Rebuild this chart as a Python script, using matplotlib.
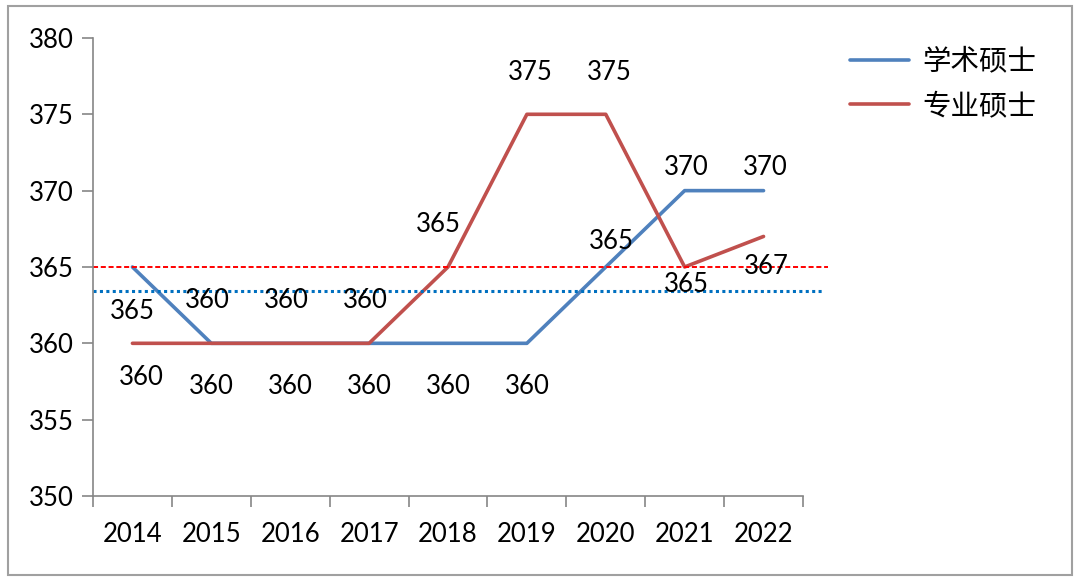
import matplotlib
matplotlib.use("Agg")
import matplotlib.pyplot as plt
from matplotlib.patches import Rectangle

plt.rcParams["font.family"] = ["Lato", "Noto Sans CJK SC", "DejaVu Sans"]

years = ["2014", "2015", "2016", "2017", "2018", "2019", "2020", "2021", "2022"]
academic = [365, 360, 360, 360, 360, 360, 365, 370, 370]
professional = [360, 360, 360, 360, 365, 375, 375, 365, 367]
red_ref = 365
blue_ref = 363.4

# label offsets in pixels (dx, dy), dy positive = up
acad_offsets = [(0, -45), (0, -43), (0, -43), (0, -43), (0, -43), (0, -43), (6, 25), (2, 23), (2, 23)]
prof_offsets = [(9, -34), (-4, 43), (-4, 43), (-4, 43), (-10, 42), (3, 42), (4, 42), (2, -18), (3, -30)]

BLUE = "#4F81BD"
RED = "#C0504D"
GRAY = "#868686"
PX = 0.72  # points per pixel at dpi 100

fig = plt.figure(figsize=(10.8, 5.84), dpi=100)
fig.patches.append(Rectangle((8 / 1080, 9 / 584), 1064 / 1080, 569 / 584,
                             transform=fig.transFigure, fill=False,
                             edgecolor="#A0A0A0", linewidth=1.5))
ax = fig.add_axes([0.0861, 0.1507, 0.6574, 0.7843])

x = list(range(len(years)))
ax.plot(x, academic, color=BLUE, lw=2.6, label="学术硕士", solid_capstyle="round")
ax.plot(x, professional, color=RED, lw=2.6, label="专业硕士", solid_capstyle="round")

ax.axhline(red_ref, xmin=0, xmax=1.035, color="#FF0000", lw=1.4,
           linestyle=(0, (2.6, 1.4)), clip_on=False)
ax.axhline(blue_ref, xmin=0, xmax=1.028, color="#0070C0", lw=2.2,
           linestyle=(0, (1, 1.1)), clip_on=False)

for xi, v, (dx, dy) in zip(x, academic, acad_offsets):
    ax.annotate(str(v), (xi, v), xytext=(dx * PX, dy * PX), textcoords="offset points",
                ha="center", va="center", fontsize=18.5, color="black")
for xi, v, (dx, dy) in zip(x, professional, prof_offsets):
    ax.annotate(str(v), (xi, v), xytext=(dx * PX, dy * PX), textcoords="offset points",
                ha="center", va="center", fontsize=18.5, color="black")

ax.set_xlim(-0.5, len(years) - 0.5)
ax.set_ylim(350, 380)
ax.set_yticks(range(350, 381, 5))
ax.set_xticks([i - 0.5 for i in range(len(years) + 1)])
ax.set_xticklabels([])
ax.set_xticks(x, minor=True)
ax.set_xticklabels(years, minor=True)
ax.tick_params(axis="x", which="major", direction="out", length=8, width=1.2, color=GRAY)
ax.tick_params(axis="x", which="minor", length=0, pad=19, labelsize=18.5)
ax.tick_params(axis="y", direction="out", length=8, width=1.2, color=GRAY, pad=6, labelsize=18.5)

for s in ["top", "right"]:
    ax.spines[s].set_visible(False)
for s in ["left", "bottom"]:
    ax.spines[s].set_color(GRAY)
    ax.spines[s].set_linewidth(1.2)

leg = ax.legend(loc="upper left", bbox_to_anchor=(0.763, 0.962), bbox_transform=fig.transFigure,
                frameon=False, fontsize=20.5, handlelength=2.1, handletextpad=0.45,
                labelspacing=0.62)

fig.savefig("out.png", dpi=100)
